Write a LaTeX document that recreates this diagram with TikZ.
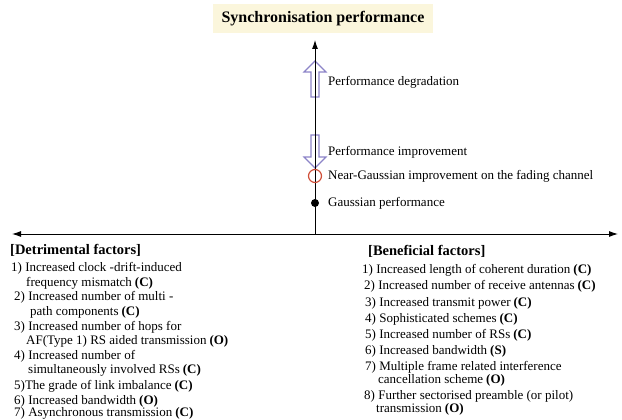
\documentclass[tikz,border=0pt]{standalone}
\usepackage{fontspec}
\setmainfont{Liberation Serif}
\usetikzlibrary{arrows.meta}
\definecolor{titlebg}{HTML}{FBF6DC}
\definecolor{arrowline}{HTML}{8C84C8}
\definecolor{ringred}{HTML}{D0503A}
\newcommand{\B}[1]{\hspace{3pt}\textbf{#1}}
\begin{document}
\begin{tikzpicture}[x=1pt,y=-1pt,
  txt/.style={anchor=west,inner sep=0pt,font=\fontsize{13}{14}\selectfont},
  hdr/.style={anchor=west,inner sep=0pt,font=\fontsize{14.5}{16}\selectfont\bfseries},
  axis/.style={line width=0.9pt,-{Latex[length=9pt,width=6pt]}},
  hollow/.style={draw=arrowline,line width=1.1pt,fill=white,line join=miter}]
\useasboundingbox (0,0) rectangle (622,420);
\fill[white] (0,0) rectangle (622,420);
% title
\node[fill=titlebg,minimum width=220pt,minimum height=29pt,inner sep=0pt,
      font=\fontsize{16}{18}\selectfont\bfseries] (title) at (323,19) {Synchronisation performance};
% axes
\coordinate (O) at (315,234);
\coordinate (T) at (315,40);
\coordinate (L) at (12,234);
\coordinate (R) at (618,234);
% hollow arrows
\draw[hollow] (311,97) -- (311,72) -- (304,72) -- (315,61) -- (326,72) -- (319,72) -- (319,97) -- cycle;
\draw[hollow] (311,135) -- (311,157) -- (304,157) -- (315,168) -- (326,157) -- (319,157) -- (319,135) -- cycle;
\draw[axis] (O) -- (T);
\draw[line width=0.9pt,{Latex[length=9pt,width=6pt]}-{Latex[length=9pt,width=6pt]}] (L) -- (R);
% markers
\node[circle,draw=ringred,line width=1.2pt,minimum size=13pt,inner sep=0pt] (ring) at (315,176) {};
\node[circle,fill=black,minimum size=8pt,inner sep=0pt] (dot) at (315,203) {};
% labels along vertical axis
\node[txt] (deg) at (328,82) {Performance degradation};
\node[txt] (imp) at (328,152) {Performance improvement};
\node[txt] (near) at (328,176) {Near-Gaussian improvement on the fading channel};
\node[txt] (gauss) at (328,203) {Gaussian performance};
% detrimental
\node[hdr] (det) at (10,250) {[Detrimental factors]};
\node[txt] (d1) at (11,268) {1) Increased clock -drift-induced};
\node[txt] (d1b) at (26,283) {frequency mismatch\B{(C)}};
\node[txt] (d2) at (14,297) {2) Increased number of multi -};
\node[txt] (d2b) at (30,312) {path components\B{(C)}};
\node[txt] (d3) at (14,327) {3) Increased number of hops for};
\node[txt] (d3b) at (26,341) {AF(Type 1) RS aided transmission\B{(O)}};
\node[txt] (d4) at (14,356) {4) Increased number of};
\node[txt] (d4b) at (28,370) {simultaneously involved RSs\B{(C)}};
\node[txt] (d5) at (14,386) {5)The grade of link imbalance\B{(C)}};
\node[txt] (d6) at (14,401) {6) Increased bandwidth\B{(O)}};
\node[txt] (d7) at (14,413.5) {7) Asynchronous transmission\B{(C)}};
% beneficial
\node[hdr] (ben) at (368,251) {[Beneficial factors]};
\node[txt] (b1) at (362,270) {1) Increased length of coherent duration\B{(C)}};
\node[txt] (b2) at (364,286) {2) Increased number of receive antennas\B{(C)}};
\node[txt] (b3) at (365,303) {3) Increased transmit power\B{(C)}};
\node[txt] (b4) at (365,319) {4) Sophisticated schemes\B{(C)}};
\node[txt] (b5) at (365,335) {5) Increased number of RSs\B{(C)}};
\node[txt] (b6) at (365,351) {6) Increased bandwidth\B{(S)}};
\node[txt] (b7) at (365,367) {7) Multiple frame related interference};
\node[txt] (b7b) at (378,380) {cancellation scheme\B{(O)}};
\node[txt] (b8) at (364,396) {8) Further sectorised preamble (or pilot)};
\node[txt] (b8b) at (376,409) {transmission\B{(O)}};
\end{tikzpicture}
\end{document}
